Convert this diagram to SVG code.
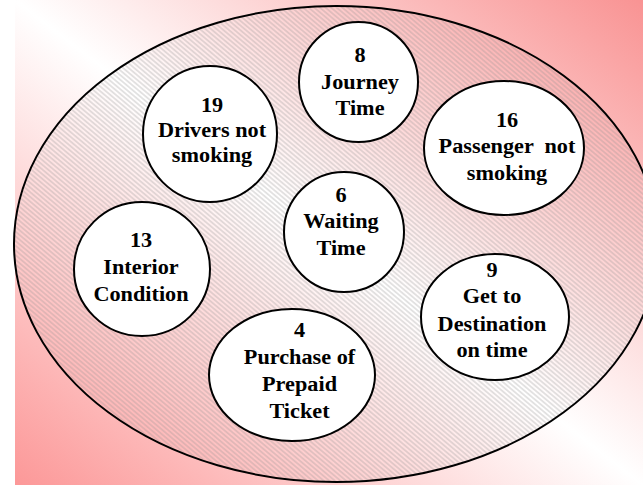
<svg xmlns="http://www.w3.org/2000/svg" width="643" height="485" viewBox="0 0 643 485">
  <defs>
    <linearGradient id="bg" x1="1" y1="0" x2="0" y2="1">
      <stop offset="0" stop-color="#f99393"/>
      <stop offset="0.5" stop-color="#ffffff"/>
      <stop offset="1" stop-color="#fc9898"/>
    </linearGradient>
    <pattern id="hatch" patternUnits="userSpaceOnUse" width="12" height="3.6" patternTransform="rotate(40)">
      <line x1="0" y1="1.8" x2="12" y2="1.8" stroke="#8f8f8f" stroke-width="0.5"/>
    </pattern>
    <style>
      .node { fill: #ffffff; stroke: #000000; stroke-width: 2; }
    </style>
  </defs>

  <g id="background">
    <rect x="0" y="0" width="643" height="485" fill="#ffffff"/>
    <rect x="15" y="0" width="628" height="485" fill="url(#bg)"/>
  </g>

  <g id="container">
    <ellipse cx="336" cy="244" rx="322" ry="238" fill="url(#hatch)" stroke="#000000" stroke-width="2"/>
  </g>

  <g id="connectors"/>

  <g id="labels-style" font-family="'Liberation Serif', 'Times New Roman', Times, serif" font-weight="bold" font-size="21" text-anchor="middle" fill="#000000">

  <g id="node-8">
    <ellipse class="node" cx="358.5" cy="82" rx="59.5" ry="60"/>
    <g transform="translate(360 0) scale(1.06 1)">
      <text x="0" y="62">8</text>
      <text x="0" y="89">Journey</text>
      <text x="0" y="115">Time</text>
    </g>
  </g>

  <g id="node-19">
    <ellipse class="node" cx="210" cy="134" rx="67" ry="68"/>
    <g transform="translate(212 0) scale(1.06 1)">
      <text x="0" y="112">19</text>
      <text x="0" y="137">Drivers not</text>
      <text x="0" y="162">smoking</text>
    </g>
  </g>

  <g id="node-16">
    <ellipse class="node" cx="504" cy="148" rx="80" ry="67"/>
    <g transform="translate(507 0) scale(1.06 1)">
      <text x="0" y="127">16</text>
      <text x="0" y="153" xml:space="preserve">Passenger  not</text>
      <text x="0" y="180">smoking</text>
    </g>
  </g>

  <g id="node-6">
    <ellipse class="node" cx="344" cy="232" rx="60" ry="60"/>
    <g transform="translate(341 0) scale(1.06 1)">
      <text x="0" y="202">6</text>
      <text x="0" y="228">Waiting</text>
      <text x="0" y="255">Time</text>
    </g>
  </g>

  <g id="node-13">
    <ellipse class="node" cx="142" cy="269" rx="68" ry="67"/>
    <g transform="translate(141 0) scale(1.06 1)">
      <text x="0" y="247">13</text>
      <text x="0" y="274">Interior</text>
      <text x="0" y="301">Condition</text>
    </g>
  </g>

  <g id="node-9">
    <ellipse class="node" cx="495" cy="317" rx="74" ry="63"/>
    <g transform="translate(492 0) scale(1.06 1)">
      <text x="0" y="277">9</text>
      <text x="0" y="303">Get to</text>
      <text x="0" y="331">Destination</text>
      <text x="0" y="357">on time</text>
    </g>
  </g>

  <g id="node-4">
    <ellipse class="node" cx="292" cy="375" rx="83" ry="66"/>
    <g transform="translate(299.5 0) scale(1.06 1)">
      <text x="0" y="337">4</text>
      <text x="0" y="364">Purchase of</text>
      <text x="0" y="391">Prepaid</text>
      <text x="0" y="418">Ticket</text>
    </g>
  </g>

  </g>
</svg>
